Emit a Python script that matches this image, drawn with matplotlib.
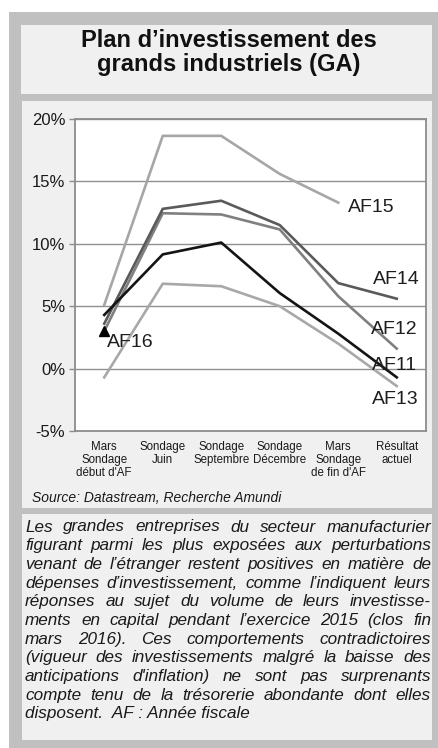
import matplotlib
matplotlib.use("Agg")
import matplotlib.pyplot as plt
from matplotlib.patches import Rectangle
import numpy as np

W, H = 439, 748
DPI = 100

categories = ["Mars\nSondage\ndébut d'AF", "Sondage\nJuin", "Sondage\nSeptembre",
              "Sondage\nDécembre", "Mars\nSondage\nde fin d'AF", "Résultat\nactuel"]
af11 = [4.3, 9.15, 10.1, 6.05, 2.8, -0.7]
af12 = [3.0, 12.45, 12.35, 11.15, 5.8, 1.6]
af13 = [-0.7, 6.8, 6.6, 5.0, 2.0, -1.4]
af14 = [3.6, 12.8, 13.45, 11.5, 6.85, 5.6]
af15 = [5.1, 18.65, 18.65, 15.6, 13.3]
af16 = [3.0]
yticks = [-5, 0, 5, 10, 15, 20]

title_lines = ["Plan d\u2019investissement des", "grands industriels (GA)"]
source = "Source: Datastream, Recherche Amundi"
body_lines = [
    "Les grandes entreprises du secteur manufacturier",
    "figurant parmi les plus expos\u00e9es aux perturbations",
    "venant de l\u2019\u00e9tranger restent positives en mati\u00e8re de",
    "d\u00e9penses d\u2019investissement, comme l\u2019indiquent leurs",
    "r\u00e9ponses au sujet du volume de leurs investisse-",
    "ments en capital pendant l\u2019exercice 2015 (clos fin",
    "mars 2016). Ces comportements contradictoires",
    "(vigueur des investissements malgr\u00e9 la baisse des",
    "anticipations d'inflation) ne sont pas surprenants",
    "compte tenu de la tr\u00e9sorerie abondante dont elles",
    "disposent.  AF : Ann\u00e9e fiscale",
]

FONT = "Liberation Sans"
plt.rcParams['font.family'] = [FONT, 'DejaVu Sans']

fig = plt.figure(figsize=(W / DPI, H / DPI), dpi=DPI)
fig.patch.set_facecolor("white")


def fx(px):
    return px / W


def fy(py):
    return 1 - py / H


def rect(x0, y0, x1, y1, color):
    fig.patches.append(Rectangle((fx(x0), fy(y1)), fx(x1) - fx(x0), fy(y0) - fy(y1),
                                 transform=fig.transFigure, facecolor=color,
                                 edgecolor="none", zorder=-10))


rect(9, 12, 439, 748, "#c0c0c0")
panel = "#f0f0f0"
rect(21, 25, 432, 94, panel)
rect(22, 101, 432, 508, panel)
rect(22, 514, 432, 740, panel)

# title
fig.text(fx(228.5), fy(47), title_lines[0], ha="center", va="baseline",
         fontsize=17, fontweight="bold", color="#111111")
fig.text(fx(228.5), fy(71), title_lines[1], ha="center", va="baseline",
         fontsize=17, fontweight="bold", color="#111111")

# axes
ax = fig.add_axes([fx(75), fy(431), fx(426) - fx(75), fy(119) - fy(431)])
ax.set_facecolor("white")
x = np.arange(len(categories))
ax.plot(x[:len(af15)], af15, color="#a6a6a6", lw=1.9, zorder=3)
ax.plot(x, af13, color="#a8a8a8", lw=1.9, zorder=3)
ax.plot(x, af12, color="#808080", lw=1.9, zorder=4)
ax.plot(x, af14, color="#5a5a5a", lw=1.9, zorder=4)
ax.plot(x, af11, color="#141414", lw=1.9, zorder=5)
ax.plot(x[:len(af16)], af16, marker="^", color="black", markersize=7, lw=0, zorder=6)

ax.set_xlim(-0.5, len(categories) - 0.5)
ax.set_ylim(yticks[0], yticks[-1])
ax.set_yticks(yticks)
ax.set_yticklabels([f"{v}%" for v in yticks], fontsize=12, color="#1a1a1a")
ax.set_xticks(x)
ax.set_xticklabels(categories, fontsize=8.3, color="#1a1a1a", linespacing=1.15)
ax.tick_params(axis="x", length=0, pad=7)
ax.tick_params(axis="y", length=4, width=1, color="#8c8c8c", pad=3, direction="out")
ax.grid(axis="y", color="#8f8f8f", lw=1.0, zorder=1)
ax.set_axisbelow(True)
for s in ax.spines.values():
    s.set_color("#8c8c8c")
    s.set_linewidth(1.3)

lab_kw = dict(fontsize=14, color="#1e1e1e", va="center", ha="left", zorder=7)
ax.text(4.167, 12.87, "AF15", **lab_kw)
ax.text(4.594, 7.14, "AF14", **lab_kw)
ax.text(4.555, 3.13, "AF12", **lab_kw)
ax.text(4.57, 0.25, "AF11", **lab_kw)
ax.text(4.57, -2.48, "AF13", **lab_kw)
ax.text(0.042, 2.13, "AF16", **lab_kw)

# source
fig.text(fx(32), fy(502.5), source, ha="left", va="baseline", fontsize=10,
         style="italic", color="#1a1a1a")

# justified body text
renderer = fig.canvas.get_renderer()
left_px, right_px = 25, 431
base0, step = 531.5, 18.67
tkw = dict(fontsize=12.3, style="italic", color="#1a1a1a", va="baseline", ha="left")
for i, line in enumerate(body_lines):
    yb = fy(base0 + i * step)
    if i == len(body_lines) - 1:
        fig.text(fx(left_px), yb, line, **tkw)
        continue
    words = line.split()
    objs = [fig.text(0, yb, w_, **tkw) for w_ in words]
    widths = [o.get_window_extent(renderer).width for o in objs]
    gap = (right_px - left_px - sum(widths)) / (len(words) - 1)
    xp = left_px
    for o, wd in zip(objs, widths):
        o.set_x(fx(xp))
        xp += wd + gap

fig.savefig("out.png", dpi=DPI)
